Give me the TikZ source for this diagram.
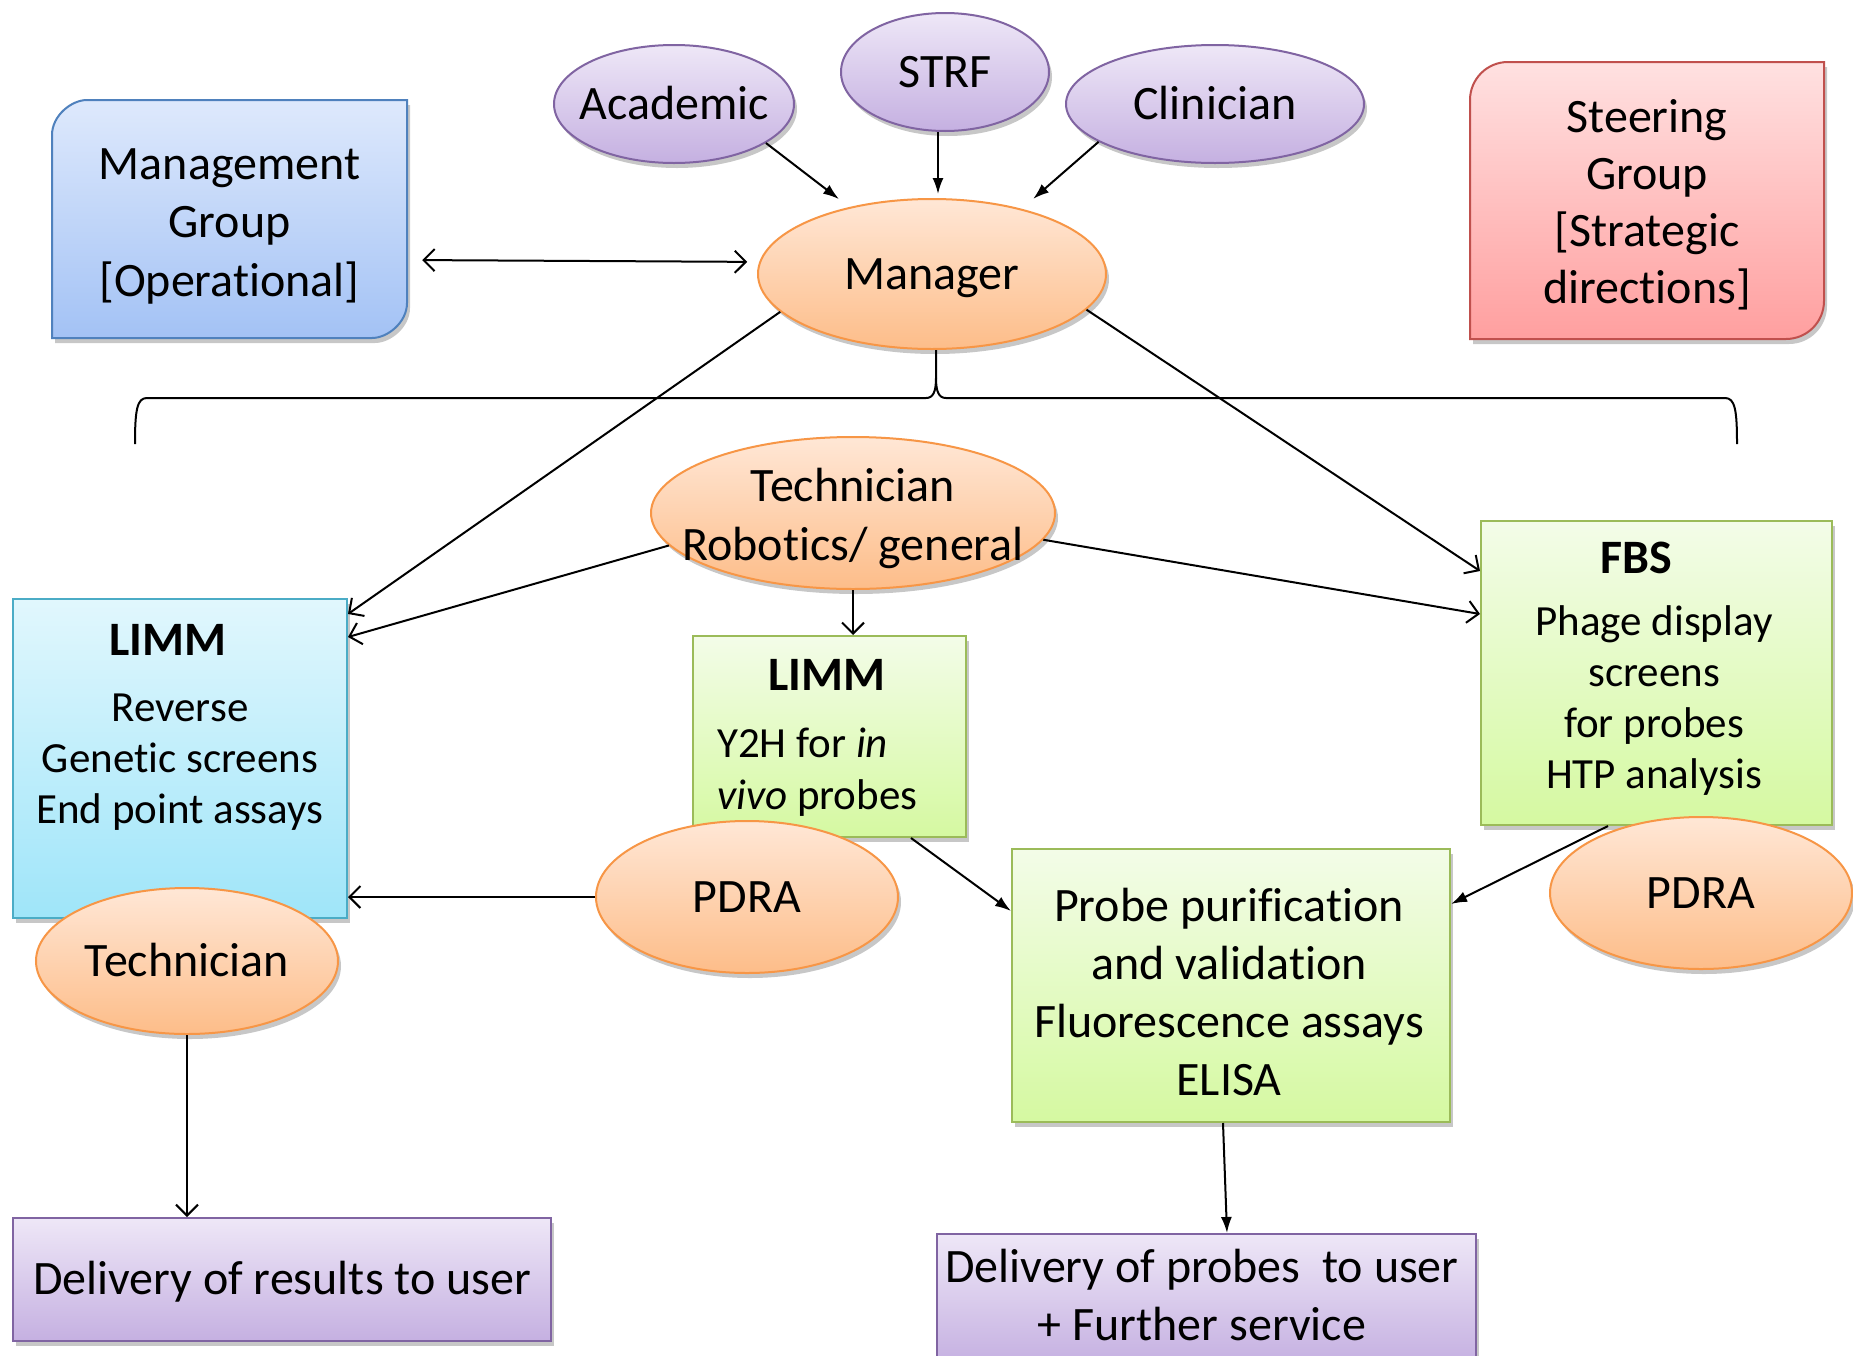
\documentclass[tikz,border=0pt]{standalone}
\usepackage{fontspec}
\setmainfont{Carlito}[Ligatures=NoCommon]
\usetikzlibrary{shapes.geometric,arrows.meta,shadows,calc}

\definecolor{purTop}{HTML}{EEE7F7}
\definecolor{purBot}{HTML}{C5B0E1}
\definecolor{purLine}{HTML}{8064A2}
\definecolor{oraTop}{HTML}{FFE7D6}
\definecolor{oraBot}{HTML}{FDBD89}
\definecolor{oraLine}{HTML}{F79646}
\definecolor{bluTop}{HTML}{DEE9FC}
\definecolor{bluBot}{HTML}{A3C2F5}
\definecolor{bluLine}{HTML}{4F81BD}
\definecolor{pinTop}{HTML}{FFE1E1}
\definecolor{pinBot}{HTML}{FF9F9F}
\definecolor{pinLine}{HTML}{C0504D}
\definecolor{cyaTop}{HTML}{E1F7FD}
\definecolor{cyaBot}{HTML}{9FE5F9}
\definecolor{cyaLine}{HTML}{4BACC6}
\definecolor{grnTop}{HTML}{F3FCE8}
\definecolor{grnBot}{HTML}{D5F9A1}
\definecolor{grnLine}{HTML}{9BBB59}

\begin{document}
\begin{tikzpicture}[x=1pt,y=-1pt,
  shad/.style={drop shadow={shadow xshift=3pt,shadow yshift=-5pt,opacity=0.22,fill=black}},
  oval/.style={ellipse,inner sep=0pt,line width=2pt,shad,text height=30pt,text depth=0pt,font=\fontsize{48pt}{58pt}\selectfont},
  purp/.style={draw=purLine,top color=purTop,bottom color=purBot},
  oran/.style={draw=oraLine,top color=oraTop,bottom color=oraBot},
  grn/.style={draw=grnLine,top color=grnTop,bottom color=grnBot},
  rbox/.style={rectangle,inner sep=0pt,line width=2pt,shad,font=\fontsize{48pt}{58pt}\selectfont},
  txt/.style={inner sep=0pt,align=center,font=\fontsize{48pt}{#1}\selectfont},
  txt/.default=57pt,
  stxt/.style={inner sep=0pt,align=center,font=\fontsize{43pt}{#1}\selectfont},
  stxt/.default=51pt,
  openarr/.style={line width=2pt,-{Straight Barb[length=11pt,width=22pt]}},
  openboth/.style={line width=2pt,{Straight Barb[length=11pt,width=22pt]}-{Straight Barb[length=11pt,width=22pt]}},
  solidarr/.style={line width=2pt,-{Latex[length=16pt,width=11pt]}}
]
\fill[white] (0,0) rectangle (1853,1355);
\useasboundingbox (0,0) rectangle (1853,1355);

% brace
\draw[line width=2pt] (135,444) .. controls (135,410) and (137,398) .. (147,398) -- (926,398)
   .. controls (933,398) and (936,392) .. (936,378) -- (936,350);
\draw[line width=2pt] (936,378) .. controls (936,392) and (939,398) .. (946,398) -- (1725,398)
   .. controls (1735,398) and (1737,410) .. (1737,444);

% management group
\path[draw=bluLine,top color=bluTop,bottom color=bluBot,line width=2pt,shad]
  (52,135) .. controls (52,115.7) and (71.3,100) .. (87,100) -- (407,100) -- (407,303)
  .. controls (407,322.3) and (387.7,338) .. (372,338) -- (52,338) -- cycle;
\node[txt=58.5pt,minimum width=355pt,minimum height=238pt] (mgmt) at (229.5,226) {Management\\Group\\{[Operational]}};

% steering group
\path[draw=pinLine,top color=pinTop,bottom color=pinBot,line width=2pt,shad]
  (1470,100) .. controls (1470,79) and (1487,62) .. (1508,62) -- (1824,62) -- (1824,301)
  .. controls (1824,322) and (1807,339) .. (1786,339) -- (1470,339) -- cycle;
\node[txt=57pt] (steer) at (1647,205) {Steering\\Group\\{[Strategic}\\directions]};

% top ellipses
\node[oval,purp,minimum width=240pt,minimum height=118pt] (acad) at (674,104) {\makebox[0pt]{Academic}};
\node[oval,purp,minimum width=208pt,minimum height=118pt] (strf) at (945,72) {\makebox[0pt]{STRF}};
\node[oval,purp,minimum width=298pt,minimum height=118pt] (clin) at (1215,104) {\makebox[0pt]{Clinician}};
\node[oval,oran,minimum width=348pt,minimum height=150pt] (manager) at (932,274) {\makebox[0pt]{Manager}};
\node[oval,oran,minimum width=404pt,minimum height=152pt] (techR) at (853,513) {};
\node[txt=59pt] (techRt) at (853,518) {Technician\\Robotics/ general};

% boxes
\node[rbox,draw=cyaLine,top color=cyaTop,bottom color=cyaBot,minimum width=334pt,minimum height=319pt] (limmL) at (180,758.5) {};
\node[txt,text height=30pt,text depth=0pt] (limmLt) at (168,640) {\textbf{LIMM}};
\node[stxt=51pt] (limmLb) at (180,762) {Reverse\\Genetic screens\\End point assays};

\node[rbox,grn,minimum width=273pt,minimum height=201pt] (limmM) at (829.5,736.5) {};
\node[txt,text height=30pt,text depth=0pt] (limmMt) at (827,675) {\textbf{LIMM}};
\node[stxt=52pt,align=left,anchor=west] (limmMb) at (717,772) {Y2H for \textit{in}\\\textit{vivo} probes};

\node[rbox,grn,minimum width=351pt,minimum height=304pt] (fbs) at (1656.5,673) {};
\node[txt,text height=30pt,text depth=0pt] (fbst) at (1636,558) {\textbf{FBS}};
\node[stxt=51pt] (fbsb) at (1654,701) {Phage display\\screens\\for probes\\HTP analysis};

\node[rbox,grn,minimum width=438pt,minimum height=273pt] (probe) at (1231,985.5) {};
\node[txt=58pt] (probet) at (1229,992) {Probe purification\\and validation\\Fluorescence assays\\ELISA};

\node[rbox,purp,minimum width=538pt,minimum height=123pt,text height=30pt,text depth=0pt] (delRes) at (282,1279.5) {Delivery of results to user};
\node[rbox,purp,minimum width=539pt,minimum height=130pt] (delProbe) at (1206.5,1299) {};
\node[txt=58pt] (delProbet) at (1202,1295) {Delivery of probes\ \ to user\\+ Further service};

% lower ellipses
\node[oval,oran,minimum width=302pt,minimum height=152pt] (pdraL) at (747,897) {\makebox[0pt]{PDRA}};
\node[oval,oran,minimum width=302pt,minimum height=152pt] (pdraR) at (1701,893) {\makebox[0pt]{PDRA}};
\node[oval,oran,minimum width=302pt,minimum height=146pt] (techB) at (187,961) {\makebox[0pt]{Technician}};

% connectors
\draw[solidarr,shorten >=13pt] (acad.-23) -- (manager.141);
\draw[solidarr,shorten >=4pt] ([xshift=-7pt]strf.south) -- ([xshift=-7pt]strf.south |- manager.north);
\draw[solidarr,shorten >=15pt] (clin.198) -- (manager.36);
\draw[openboth,shorten <=15pt,shorten >=12pt] ([yshift=-34pt]mgmt.east) -- (manager.176);
\draw[openarr] (manager.194) -- ([yshift=-16pt]limmL.north east);
\draw[openarr] (manager.347) -- ([yshift=-51pt]fbs.north west);
\draw[openarr] (techR.190) -- ([yshift=-39pt]limmL.north east);
\draw[openarr] (techR.south) -- (techR.south |- limmM.north);
\draw[openarr] (techR.352) -- ([yshift=-94pt]fbs.north west);
\draw[openarr] (pdraL.west) -- (pdraL.west -| limmL.east);
\draw[openarr] (techB.south) -- (techB.south |- delRes.north);
\draw[solidarr] ([xshift=81.5pt]limmM.south) -- ([yshift=-63pt]probe.north west);
\draw[solidarr] ([xshift=-48.5pt]fbs.south) -- ([yshift=-56pt]probe.north east);
\draw[solidarr] ([xshift=-8pt]probe.south) -- ([xshift=20.5pt]delProbe.north);
\end{tikzpicture}
\end{document}
